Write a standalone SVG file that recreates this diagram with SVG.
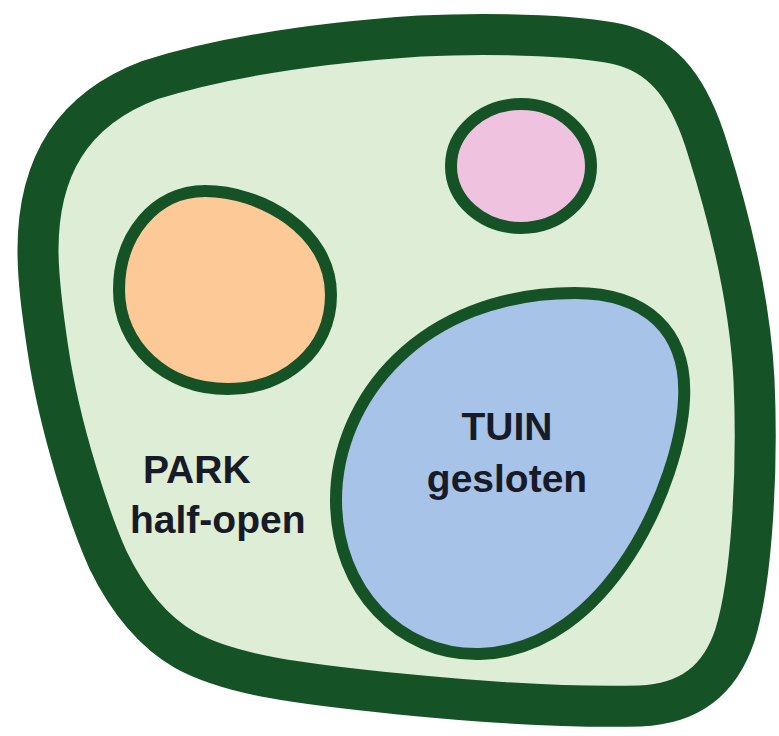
<svg xmlns="http://www.w3.org/2000/svg" width="779" height="736" viewBox="0 0 779 736">
<style>
.lbl{font-family:"Liberation Sans",Arial,sans-serif;font-weight:bold;font-size:39px;fill:#171b27}
.ring{stroke:#155226;stroke-width:12}
</style>
<rect width="779" height="736" fill="#ffffff"/>
<g id="outer">
<path d="M 38 250 C 38 170, 70 110, 150 80 C 230 55, 330 42, 420 36 C 500 32, 590 36, 625 46 C 665 58, 690 90, 708 150 C 730 220, 750 300, 754 380 C 758 470, 752 580, 735 635 C 720 680, 690 704, 640 706 C 560 708, 460 700, 400 694 C 300 684, 230 675, 185 650 C 150 630, 125 595, 108 560 C 90 520, 60 430, 48 350 C 42 310, 38 280, 38 250 Z" fill="#deedd5" stroke="#155226" stroke-width="41" stroke-linejoin="round"/>
</g>
<g id="park-circle">
<path class="ring" d="M 205 191 C 260 191, 331 230, 331 295 C 331 350, 285 389, 228 389 C 165 389, 119 345, 119 290 C 119 235, 155 191, 205 191 Z" fill="#fcc997"/>
</g>
<g id="pink-circle">
<ellipse class="ring" cx="521" cy="166" rx="70" ry="62" fill="#efc3df"/>
</g>
<g id="tuin">
<path class="ring" stroke-width="13" d="M 575 293 C 645 293, 688 330, 684 400 C 680 480, 610 650, 480 654 C 400 656, 336 590, 336 500 C 336 400, 420 293, 575 293 Z" fill="#a7c3e8"/>
<text class="lbl" x="507" y="440" text-anchor="middle">TUIN</text>
<text class="lbl" x="507" y="492" text-anchor="middle">gesloten</text>
</g>
<g id="park">
<text class="lbl" x="143" y="483">PARK</text>
<text class="lbl" x="130" y="533">half-open</text>
</g>
<g id="connectors"></g>
</svg>
